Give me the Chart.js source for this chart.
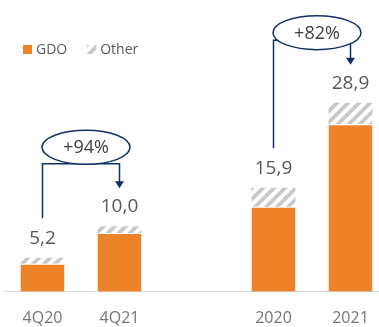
<!DOCTYPE html>
<html>
<head>
<meta charset="utf-8">
<script src="https://cdn.jsdelivr.net/npm/chart.js@4.4.1/dist/chart.umd.min.js"></script>
<style>
  html, body { margin: 0; padding: 0; background: #fff; overflow: hidden; }
  #wrap { width: 379px; height: 327px; overflow: hidden; }
</style>
</head>
<body>
<div id="wrap"><canvas id="volumes" width="390" height="345"></canvas></div>
<script>
'use strict'

// volumes per period, the empty slot splits quarters from full years
const periods = ['4Q20', '4Q21', '', '2020', '2021'];
const gdo = [4.3, 9.0, null, 13.0, 25.6];
const other = [0.9, 1.0, null, 2.9, 3.3];
const seriesNames = ['GDO', 'Other'];

// growth callouts: [from, to] period index and their text
const growthPairs = [[0, 1], [3, 4]];
const growthLabels = ['+94%', '+82%'];

const ORANGE = '#EE8229';
const NAVY = '#142F63';
const TEXT = '#595959';
const FONT = '"Open Sans", sans-serif';

// ellipse offset from the connector line, per callout
const ellipseDy = [-16.5, -7.5];

function hatch(){
    const size = 11;
    const c = document.createElement('canvas');
    c.width = size;
    c.height = size;
    const g = c.getContext('2d');
    g.fillStyle = '#fff';
    g.fillRect(0, 0, size, size);
    g.strokeStyle = '#c9c9c9';
    g.lineWidth = 3.8;
    g.lineCap = 'square';
    [[-size, size], [0, size], [0, 2 * size]].forEach(([x, y]) => {
        g.beginPath();
        g.moveTo(x, y);
        g.lineTo(x + size, y - size);
        g.stroke();
    });
    return document.getElementById('volumes').getContext('2d').createPattern(c, 'repeat');
}

const stripes = hatch();

const barNotes = {
    id: 'barNotes',
    afterDatasetsDraw(chart){
        const ctx = chart.ctx;
        const tops = chart.getDatasetMeta(1).data;
        const labelY = [];
        ctx.save();
        ctx.textAlign = 'center';
        ctx.textBaseline = 'middle';
        ctx.font = '19px ' + FONT;
        ctx.fillStyle = TEXT;
        periods.forEach((p, i) => {
            if(gdo[i] == null) return;
            const total = gdo[i] + other[i];
            labelY[i] = tops[i].y - 19.5;
            ctx.fillText(total.toFixed(1).replace('.', ','), tops[i].x, labelY[i]);
        });

        growthPairs.forEach(([a, b], k) => {
            const xa = tops[a].x;
            const xb = tops[b].x;
            const tipY = labelY[b] - 18.5;
            const lineY = tipY - 24.5;
            const cx = (xa + xb) / 2 + 5;
            const cy = lineY + ellipseDy[k];

            ctx.strokeStyle = NAVY;
            ctx.lineWidth = 1.5;
            ctx.beginPath();
            ctx.moveTo(xa, labelY[a] - 20);
            ctx.lineTo(xa, lineY);
            ctx.lineTo(xb, lineY);
            ctx.lineTo(xb, tipY - 6);
            ctx.stroke();

            ctx.fillStyle = NAVY;
            ctx.beginPath();
            ctx.moveTo(xb - 4.5, tipY - 7);
            ctx.lineTo(xb + 4.5, tipY - 7);
            ctx.lineTo(xb, tipY);
            ctx.closePath();
            ctx.fill();

            ctx.beginPath();
            ctx.ellipse(cx, cy, 44, 17, 0, 0, Math.PI * 2);
            ctx.fillStyle = '#fff';
            ctx.fill();
            ctx.stroke();

            ctx.fillStyle = '#404040';
            ctx.font = '18px ' + FONT;
            ctx.fillText(growthLabels[k], cx, cy + 1);
        });
        ctx.restore();
    },
    afterDraw(chart){
        const ctx = chart.ctx;
        ctx.save();
        ctx.font = '14px ' + FONT;
        ctx.textBaseline = 'middle';
        let x = 23;
        chart.data.datasets.forEach(ds => {
            ctx.fillStyle = ds.backgroundColor;
            ctx.fillRect(x, 45, 9, 9);
            ctx.fillStyle = TEXT;
            ctx.fillText(ds.label, x + 13, 50);
            x += 13 + ctx.measureText(ds.label).width + 20;
        });
        ctx.restore();
    }
};

new Chart(document.getElementById('volumes'), {
    type: 'bar',
    data: {
        labels: periods,
        datasets: [
            {
                label: seriesNames[0],
                data: gdo,
                backgroundColor: ORANGE,
                borderWidth: {top: 1},
                borderColor: '#fff',
                borderSkipped: false
            },
            {
                label: seriesNames[1],
                data: other,
                backgroundColor: stripes
            }
        ]
    },
    options: {
        responsive: false,
        animation: false,
        events: [],
        devicePixelRatio: 1,
        layout: {padding: {left: 4, right: 1, top: 0, bottom: 0}},
        datasets: {
            bar: {barPercentage: 0.571, categoryPercentage: 1}
        },
        plugins: {
            legend: {display: false},
            tooltip: {enabled: false}
        },
        scales: {
            x: {
                stacked: true,
                grid: {color: 'transparent', drawTicks: false},
                border: {display: true, color: '#d9d9d9', width: 1},
                ticks: {
                    padding: 17,
                    color: '#757575',
                    font: {family: FONT, size: 16}
                }
            },
            y: {
                stacked: true,
                display: false,
                min: 0,
                max: 44.58
            }
        }
    },
    plugins: [barNotes]
});
</script>
</body>
</html>
